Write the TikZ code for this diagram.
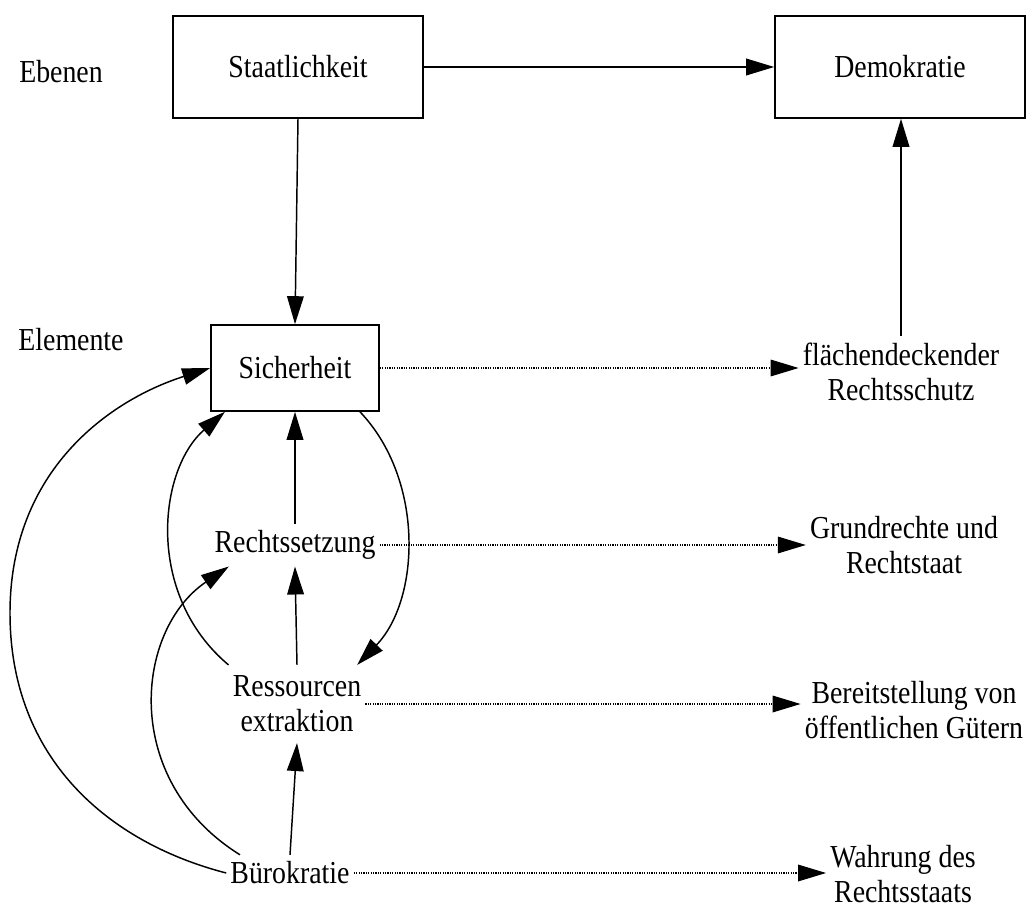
\documentclass[tikz,border=0pt]{standalone}
\usepackage{fontspec}
\setmainfont{Liberation Serif}[FakeStretch=0.87]
\usetikzlibrary{arrows.meta}
\begin{document}
\begin{tikzpicture}[x=0.75pt,y=-0.75pt,
  font=\fontsize{24}{26.25}\selectfont,
  every node/.style={inner xsep=3pt, inner ysep=5pt},
  box/.style={draw, line width=1.2pt, minimum width=187.5pt, minimum height=76.5pt},
  smallbox/.style={draw, line width=1.2pt, minimum width=126pt, minimum height=64.5pt},
  lbl/.style={align=center},
  conn/.style={line width=1.1pt, -{Triangle[length=21pt,width=12.5pt]}},
  dotconn/.style={line width=0.9pt, dash pattern=on 0.9pt off 0.9pt, -{Triangle[length=21pt,width=12.5pt]}},
]
\useasboundingbox[fill=white] (0,0) rectangle (1029,909);

\node (ebenen) at (61,72) {Ebenen};
\node (elemente) at (71,340) {Elemente};
\node[box] (staat) at (298,67) {Staatlichkeit};
\node[box] (demo) at (900,67) {Demokratie};
\node[smallbox] (sich) at (295,368) {Sicherheit};
\node (rechts) at (295,545) {Rechtssetzung};
\node[lbl, inner ysep=8pt] (ress) at (297,704) {Ressourcen\\extraktion};
\node (bur) at (290,873) {Bürokratie};
\node[lbl] (flaech) at (901,372) {flächendeckender\\Rechtsschutz};
\node[lbl] (grund) at (904,545) {Grundrechte und\\Rechtstaat};
\node[lbl] (bereit) at (914,710) {Bereitstellung von\\öffentlichen Gütern};
\node[lbl, inner ysep=1pt] (wahr) at (903,874) {Wahrung des\\Rechtsstaats};
\coordinate (bend) at (10,613);

\draw[conn] (staat.east) -- (demo.west);
\draw[conn] (staat.south) -- (sich.north);
\draw[conn] (flaech.north) -- (flaech.north |- demo.south);
\draw[conn] (rechts.north) -- (sich.south);
\draw[conn] (ress.north) -- (rechts.south);
\draw[conn] (bur.north) -- (ress.south);

\draw[conn] (sich.-34) .. controls (425,480) and (420,600) .. (ress.33);
\draw[conn] (ress.north west) .. controls (145,595) and (158,470) .. (sich.-148);
\draw[conn] (bur.160) .. controls (120,780) and (135,630) .. (rechts.-162);
\draw[conn] (bur.west) .. controls (110,843) and (10,760) .. (bend) .. controls (10,470) and (110,400) .. (sich.west);

\draw[dotconn] (sich.east) -- (sich.east -| flaech.west);
\draw[dotconn] (rechts.east) -- (rechts.east -| grund.west);
\draw[dotconn] (ress.east) -- (ress.east -| bereit.west);
\draw[dotconn] (bur.east) -- (bur.east -| wahr.west);
\end{tikzpicture}
\end{document}
